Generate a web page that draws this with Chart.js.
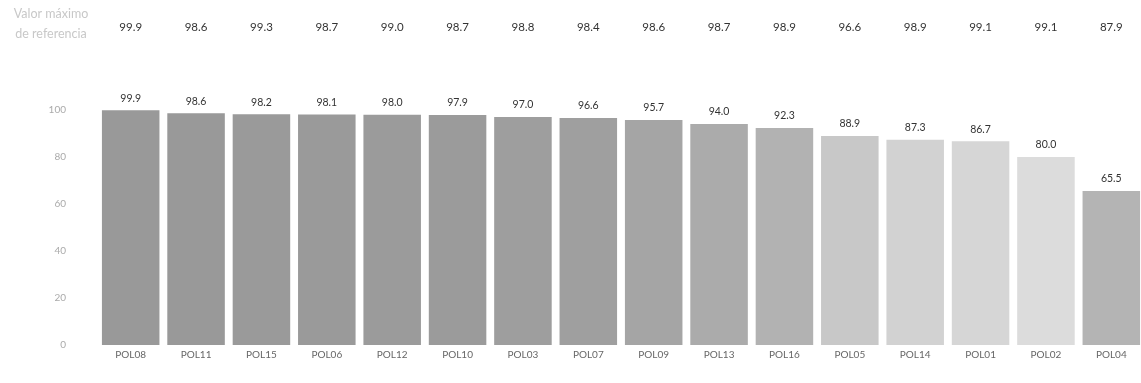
<!DOCTYPE html>
<html>
<head>
<meta charset="utf-8">
<script src="https://cdn.jsdelivr.net/npm/chart.js@4"></script>
<style>
  html, body { margin: 0; padding: 0; background: #fff; overflow: hidden; }
  canvas { display: block; }
</style>
</head>
<body>
<canvas id="barChart" width="1144" height="383"></canvas>
<script>
// data
var categories = ['POL08', 'POL11', 'POL15', 'POL06', 'POL12', 'POL10', 'POL03', 'POL07',
                  'POL09', 'POL13', 'POL16', 'POL05', 'POL14', 'POL01', 'POL02', 'POL04'];
var values = [99.9, 98.6, 98.2, 98.1, 98.0, 97.9, 97.0, 96.6, 95.7, 94.0, 92.3, 88.9, 87.3, 86.7, 80.0, 65.5];
var referenceMax = [99.9, 98.6, 99.3, 98.7, 99.0, 98.7, 98.8, 98.4, 98.6, 98.7, 98.9, 96.6, 98.9, 99.1, 99.1, 87.9];
var yTicks = [0, 20, 40, 60, 80, 100];
var referenceTitle = ['Valor máximo', 'de referencia'];

// grey shade of each bar
var barColors = ['#999999', '#999999', '#9a9a9a', '#9a9a9a', '#9b9b9b', '#9b9b9b', '#9e9e9e', '#9f9f9f',
                 '#a5a5a5', '#ababab', '#b2b2b2', '#c8c8c8', '#d2d2d2', '#d6d6d6', '#dcdcdc', '#b4b4b4'];

var fontFamily = 'Lato, "Open Sans", sans-serif';

// value above every bar + reference row at the top
var labelsPlugin = {
    id: 'labelsPlugin',
    afterDatasetsDraw: function (chart) {
        var ctx = chart.ctx;
        var meta = chart.getDatasetMeta(0);
        ctx.save();
        ctx.textAlign = 'center';
        ctx.textBaseline = 'middle';

        // numbers on top of the bars
        ctx.fillStyle = '#333';
        ctx.font = '10.5px ' + fontFamily;
        meta.data.forEach(function (bar, i) {
            ctx.fillText(values[i].toFixed(1), bar.x, bar.y - 12);
        });

        // reference row
        ctx.font = '11.5px ' + fontFamily;
        meta.data.forEach(function (bar, i) {
            ctx.fillText(referenceMax[i].toFixed(1), bar.x, 27);
        });

        // row title, light grey
        ctx.fillStyle = '#c8c8c8';
        ctx.font = '12.5px ' + fontFamily;
        ctx.fillText(referenceTitle[0], 51, 14);
        ctx.fillText(referenceTitle[1], 51, 34);
        ctx.restore();
    }
};

var ctx = document.getElementById('barChart').getContext('2d');
var myChart = new Chart(ctx, {
    type: 'bar',
    data: {
        labels: categories,
        datasets: [{
            data: values,
            backgroundColor: barColors,
            borderWidth: 0,
            barPercentage: 0.88,
            categoryPercentage: 1.0
        }]
    },
    options: {
        responsive: false,
        animation: false,
        devicePixelRatio: 1,
        layout: { padding: { top: 110, left: 0, right: 0, bottom: 0 } },
        plugins: {
            legend: { display: false },
            tooltip: { enabled: false }
        },
        scales: {
            x: {
                afterFit: function (axis) { axis.height = 20; },
                grid: { display: false, drawTicks: false },
                border: { display: false },
                ticks: {
                    color: '#666',
                    padding: 4,
                    maxRotation: 0,
                    font: { family: fontFamily, size: 10 }
                }
            },
            y: {
                min: 0,
                max: 100,
                afterBuildTicks: function (axis) {
                    axis.ticks = yTicks.map(function (v) { return { value: v }; });
                },
                afterFit: function (axis) { axis.width = 98; },
                grid: { display: false, drawTicks: false },
                border: { display: false },
                ticks: {
                    color: '#aaa',
                    padding: 32,
                    font: { family: fontFamily, size: 10 }
                }
            }
        }
    },
    plugins: [labelsPlugin]
});
</script>
</body>
</html>
